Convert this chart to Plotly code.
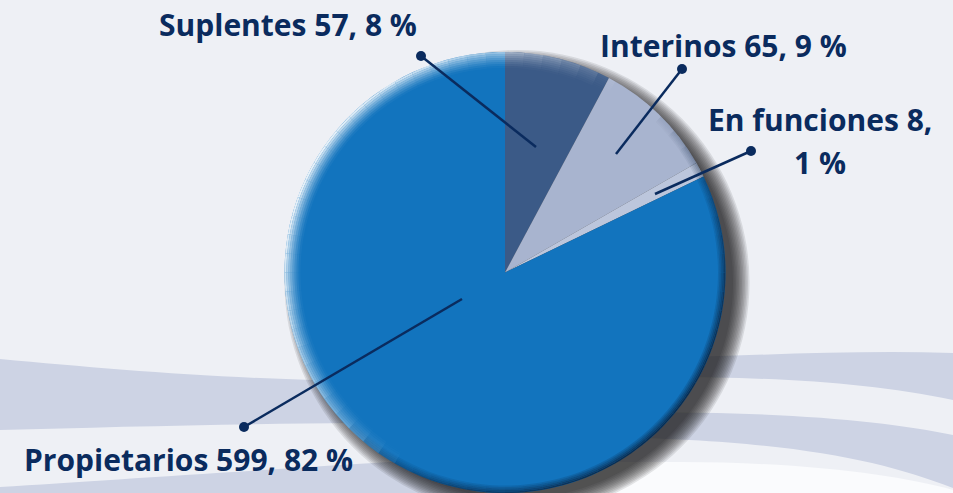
"""
Pie chart of staff categories (Propietarios / Suplentes / Interinos / En funciones)
drawn with Plotly, with a soft 3D-like rim, drop shadow and wavy background bands.
"""
import numpy as np
import plotly.graph_objects as go

# data
labels = ["Suplentes", "Interinos", "En funciones", "Propietarios"]
values = [57, 65, 8, 599]
percents = ["8 %", "9 %", "1 %", "82 %"]
colors = ["#3b5a87", "#a8b4cf", "#bcc6dc", "#1274be"]

W, H = 953, 493
BG = "#eef0f5"
BAND = "#cdd3e4"
INK = "#0a2b5e"

# pie geometry in pixels (y grows downward)
cx, r = 505.0, 220.5
cy = (1 - 0.8945 / 2) * H  # centre of the y domain below

fig = go.Figure()

# dummy cartesian trace so the pixel axes exist for shapes/annotations
fig.add_trace(go.Scatter(x=[], y=[], hoverinfo="skip", showlegend=False))

fig.add_trace(go.Pie(
    labels=labels,
    values=values,
    sort=False,
    direction="clockwise",
    rotation=0,
    marker=dict(colors=colors, line=dict(width=0)),
    textinfo="none",
    hoverinfo="label+value+percent",
    showlegend=False,
    domain=dict(x=[(cx - r) / W, (cx + r) / W], y=[0, 0.8945]),
))

shapes = []

# background waves
band_paths = [
    "M 0,359 C 110,369 220,379 360,381 L 360,423 C 220,424 110,427 0,430 Z",
    "M 0,487 C 110,480 260,470 420,460 L 520,455 L 520,493 L 0,493 Z",
    "M 660,358 C 760,355 860,350 953,353 L 953,400 C 870,383 780,377 660,377 Z",
    "M 600,412 C 780,411 880,420 953,435 L 953,488 C 880,460 790,440 600,437 Z",
]
for p in band_paths:
    shapes.append(dict(type="path", path=p, xref="x", yref="y", fillcolor=BAND,
                       line=dict(width=0), layer="below"))
shapes.append(dict(type="path", path="M 540,462 L 680,462 C 800,462 900,475 953,490 L 953,493 L 540,493 Z",
                   xref="x", yref="y", fillcolor="#fafbfd", line=dict(width=0), layer="below"))

# drop shadow (offset down-right, soft edge)
for k in range(12):
    rr = r + 12 - k * 1.5
    sx, sy = cx + 12, cy + 10
    shapes.append(dict(type="circle", xref="x", yref="y",
                       x0=sx - rr, x1=sx + rr, y0=sy - rr, y1=sy + rr,
                       fillcolor="rgba(20,20,20,0.1)", line=dict(width=0), layer="below"))


def sector(r0, r1, a0, a1, n=4):
    """Annular sector path; angles in degrees clockwise from 12 o'clock."""
    a = np.radians(np.linspace(a0, a1, n))
    outer = [(cx + r1 * np.sin(t), cy - r1 * np.cos(t)) for t in a]
    inner = [(cx + r0 * np.sin(t), cy - r0 * np.cos(t)) for t in a[::-1]]
    pts = outer + inner
    return "M " + " L ".join(f"{x:.2f},{y:.2f}" for x, y in pts) + " Z"


# rim shading: light at top-left, dark at bottom-right
nseg = 72
for i in range(nseg):
    a0 = i * 360 / nseg
    a1 = a0 + 360 / nseg
    am = np.radians((a0 + a1) / 2)
    w_light = max(0.0, np.cos(am - np.radians(300))) ** 0.8
    w_dark = max(0.0, np.cos(am - np.radians(135))) ** 0.7
    for j in range(8):
        r1 = r - j * 2.0
        f = (1 - j / 8) ** 1.5
        if w_light * f > 0.01:
            shapes.append(dict(type="path", path=sector(r1 - 2.0, r1, a0, a1), xref="x", yref="y",
                               fillcolor=f"rgba(255,255,255,{0.9 * w_light * f:.3f})",
                               line=dict(width=0), layer="above"))
    for j in range(5):
        r1 = r - j * 1.5
        f = 1 - j / 5
        if w_dark * f > 0.01:
            shapes.append(dict(type="path", path=sector(r1 - 1.5, r1, a0, a1), xref="x", yref="y",
                               fillcolor=f"rgba(10,32,60,{0.85 * w_dark * f:.3f})",
                               line=dict(width=0), layer="above"))

# leader lines: (dot end, slice end)
leaders = [
    ((421, 56), (536, 147)),
    ((682, 69), (616, 154)),
    ((751, 151), (655, 194)),
    ((244, 427), (462, 299)),
]
for (x0, y0), (x1, y1) in leaders:
    shapes.append(dict(type="line", xref="x", yref="y", x0=x0, y0=y0, x1=x1, y1=y1,
                       line=dict(color=INK, width=2.5), layer="above"))
    shapes.append(dict(type="circle", xref="x", yref="y", x0=x0 - 5, x1=x0 + 5,
                       y0=y0 - 5, y1=y0 + 5, fillcolor=INK, line=dict(width=0), layer="above"))

# labels
label_pos = [(288, 24), (723, 45), (820, 119), (188, 459)]
annotations = []
for i, (lab, val, pct) in enumerate(zip(labels, values, percents)):
    x, y = label_pos[i]
    if lab == "En funciones":
        annotations.append(dict(x=x, y=y, text=f"<b>{lab} {val},</b>"))
        annotations.append(dict(x=x, y=y + 43, text=f"<b>{pct}</b>"))
    else:
        annotations.append(dict(x=x, y=y, text=f"<b>{lab} {val}, {pct}</b>"))
for a in annotations:
    a.update(xref="x", yref="y", showarrow=False, xanchor="center", yanchor="middle",
             font=dict(family="Open Sans", size=30, color=INK))

fig.update_layout(
    width=W, height=H,
    margin=dict(l=0, r=0, t=0, b=0),
    paper_bgcolor=BG, plot_bgcolor=BG,
    xaxis=dict(range=[0, W], visible=False, fixedrange=True, domain=[0, 1]),
    yaxis=dict(range=[H, 0], visible=False, fixedrange=True, domain=[0, 1]),
    shapes=shapes,
    annotations=annotations,
    showlegend=False,
)

fig.write_html("out.html", config={"displayModeBar": False},
               post_script="document.body.style.margin='0';")
